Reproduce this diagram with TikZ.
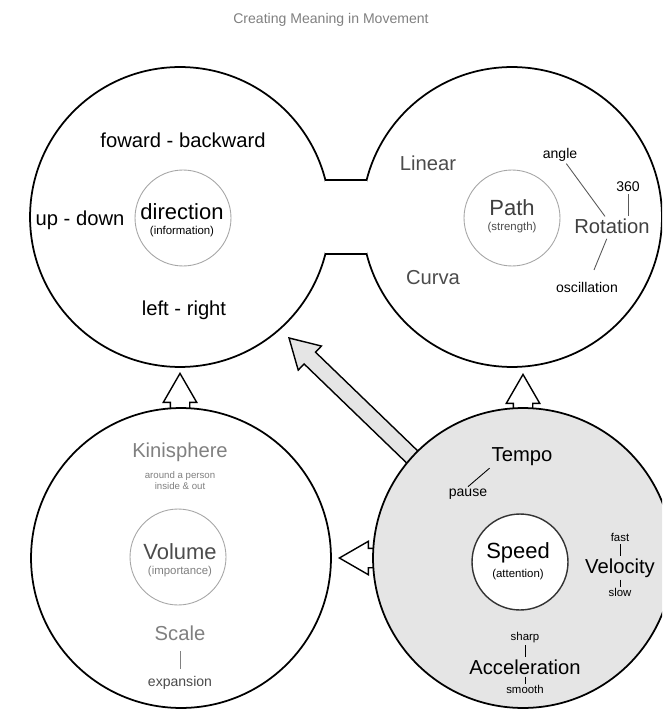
\documentclass[tikz,border=0pt]{standalone}
\usepackage{fontspec}
\setmainfont{Liberation Sans}
\usetikzlibrary{shapes.arrows, positioning, backgrounds}

\begin{document}
\begin{tikzpicture}[
    x=0.02cm, y=-0.02cm,
    node distance=0.3cm and 0.3cm,
    sphere/.style={circle, draw, line width=1pt, fill=white, minimum size=6cm, inner sep=0, outer sep=0},
    core/.style={circle, draw=gray!70, line width=0.5pt, fill=white, minimum size=1.92cm, inner sep=0},
    main/.style={font=\fontsize{11.5}{13}\selectfont, inner sep=1pt},
    big/.style={font=\fontsize{12.5}{14}\selectfont, inner sep=1pt},
    minor/.style={font=\fontsize{8}{9}\selectfont, inner sep=1pt},
    note/.style={font=\fontsize{6.5}{7.5}\selectfont, inner sep=1pt},
    blockarrow/.style={single arrow, draw, line width=0.8pt, fill=white, single arrow tip angle=60, single arrow head extend=0.14cm, inner xsep=1pt, inner ysep=0.18cm, minimum height=0.84cm, anchor=tip},
    link/.style={draw=gray!70!black, line width=0.5pt},
]

\clip (0,0) rectangle (662,709);

\node[minor, text=gray] (title) at (331,20) {Creating Meaning in Movement};

% the four spheres
\node[sphere] (dir) at (180,217) {};
\node[sphere] (path) at (512,217) {};
\node[sphere] (vol) at (181,558) {};
\node[sphere, fill=gray!20] (speed) at (523,558) {};

% bridge between direction and path
\coordinate (bridgetl) at (325.4,180);
\coordinate (bridgetr) at (366.6,180);
\coordinate (bridgebl) at (325.4,254);
\coordinate (bridgebr) at (366.6,254);
\fill[white] (bridgetl) rectangle (bridgebr);
\draw[line width=1pt] (bridgetl) -- (bridgetr);
\draw[line width=1pt] (bridgebl) -- (bridgebr);

\begin{scope}[on background layer]
\node[blockarrow, rotate=90] (voltodir) at (180,372) {};
\node[blockarrow, rotate=90] (speedtopath) at (523,373) {};
\node[blockarrow, rotate=180] (speedtovol) at (338,558) {};
\node[blockarrow, rotate=136, fill=gray!20, inner ysep=0.15cm, single arrow head extend=0.17cm, minimum height=3.6cm] (speedtodir) at (288,337) {};
\end{scope}

% direction
\node[main] (fb) at (183,140) {foward - backward};
\node[main] (ud) at (80,220) {up - down};
\node[main] (lr) at (184,310) {left - right};
\node[core] (dircore) at (183,218) {};
\node[big] (dirname) at (182,212) {direction};
\node[note, below=1pt of dirname] (dirnote) {(information)};

% path
\node[main, text=gray!60!black] (linear) at (428,163) {Linear};
\node[main, text=gray!60!black] (curva) at (433,278) {Curva};
\node[core] (pathcore) at (512,218) {};
\node[big, text=gray!50!black] (pathname) at (512,208) {Path};
\node[note, text=gray!60!black, below=1pt of pathname] (pathnote) {(strength)};
\node[main, text=gray!50!black] (rot) at (612,226) {Rotation};
\node[minor] (angle) at (560,155) {angle};
\node[minor] (full) at (628,187) {360};
\node[minor] (osc) at (587,287) {oscillation};
\draw[link] (angle) -- (rot);
\draw[link] (full.south) -- (full.south |- rot.north);
\draw[link, shorten <=2pt, shorten >=6pt] (rot) -- (osc);

% volume
\node[main, text=gray] (kin) at (180,452) {Kinisphere};
\node[font=\fontsize{5.5}{6.5}\selectfont, text=gray, align=center, below=1pt of kin] (kinnote) {around a person\\inside \& out};
\node[core] (volcore) at (178,557) {};
\node[big, text=gray!60!black] (volname) at (180,552) {Volume};
\node[note, text=gray, below=1pt of volname] (volnote) {(importance)};
\node[main, text=gray] (scale) at (180,633) {Scale};
\node[minor, text=gray!60!black] (expn) at (180,683) {expansion};
\draw[link, draw=gray, shorten <=5pt, shorten >=3pt] (scale) -- (expn);

% speed
\node[core, draw=gray!40!black, line width=0.8pt] (speedcore) at (520,562) {};
\node[big] (speedname) at (518,553) {Speed};
\node[note, below=1pt of speedname] (speednote) {(attention)};
\node[main] (tempo) at (522,457) {Tempo};
\node[minor] (pause) at (468,494) {pause};
\draw[link, draw=black] (tempo.south west) -- (pause.north);
\node[main] (vel) at (620,568) {Velocity};
\node[note, above=7pt of vel] (fast) {fast};
\node[note, below=4pt of vel] (slow) {slow};
\draw[link, draw=black] (fast) -- (vel);
\draw[link, draw=black] (vel) -- (slow);
\node[main] (acc) at (525,667) {Acceleration};
\node[note, above=7pt of acc] (sharp) {sharp};
\node[note, below=4pt of acc] (smooth) {smooth};
\draw[link, draw=black] (sharp) -- (acc);
\draw[link, draw=black] (acc) -- (smooth);

\end{tikzpicture}
\end{document}
